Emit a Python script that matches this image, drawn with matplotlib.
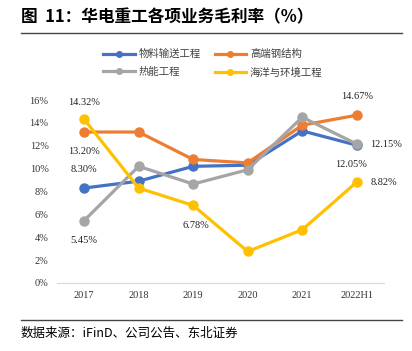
import matplotlib.pyplot as plt
from matplotlib.lines import Line2D

plt.rcParams['font.family'] = ['Noto Sans CJK SC', 'DejaVu Sans']

years = ['2017', '2018', '2019', '2020', '2021', '2022H1']
names = ['物料输送工程', '高端钢结构', '热能工程', '海洋与环境工程']
wuliao = [8.30, 8.9, 10.2, 10.3, 13.3, 12.05]
gangjg = [13.20, 13.2, 10.8, 10.5, 13.8, 14.67]
reneng = [5.45, 10.2, 8.65, 9.9, 14.5, 12.15]
haiyang = [14.32, 8.3, 6.78, 2.75, 4.65, 8.82]
colors = ['#4472C4', '#ED7D31', '#A5A5A5', '#FFC000']

fig = plt.figure(figsize=(4.12, 3.51), dpi=100)
ax = fig.add_axes([0.138, 0.194, 0.794, 0.521])

x = range(len(years))
for vals, c in zip([wuliao, gangjg, reneng, haiyang], colors):
    ax.plot(x, vals, color=c, lw=2.3, marker='o', ms=6.5)

ax.set_xlim(-0.5, 5.5)
ax.set_ylim(0, 16)
ax.set_yticks(range(0, 17, 2))
ax.set_yticklabels(['%d%%' % v for v in range(0, 17, 2)])
ax.set_xticks(list(x))
ax.set_xticklabels(years)
for lab in ax.get_xticklabels() + ax.get_yticklabels():
    lab.set_fontfamily('Liberation Serif')
    lab.set_fontsize(7.5)
ax.tick_params(length=0, pad=6, colors='#333333')
for s in ['top', 'right', 'left']:
    ax.spines[s].set_visible(False)
ax.spines['bottom'].set_color('#D9D9D9')

tf = dict(fontfamily='Liberation Serif', fontsize=7.5, color='#222222')
ax.annotate('14.32%', (0, haiyang[0]), xytext=(0, 9), textcoords='offset points', ha='center', va='bottom', **tf)
ax.annotate('13.20%', (0, gangjg[0]), xytext=(0, -11), textcoords='offset points', ha='center', va='top', **tf)
ax.annotate('8.30%', (0, wuliao[0]), xytext=(0, 10), textcoords='offset points', ha='center', va='bottom', **tf)
ax.annotate('5.45%', (0, reneng[0]), xytext=(0, -11), textcoords='offset points', ha='center', va='top', **tf)
ax.annotate('6.78%', (2, haiyang[2]), xytext=(2, -11), textcoords='offset points', ha='center', va='top', **tf)
ax.annotate('14.67%', (5, gangjg[5]), xytext=(0, 10), textcoords='offset points', ha='center', va='bottom', **tf)
ax.annotate('12.15%', (5, reneng[5]), xytext=(10, 0), textcoords='offset points', ha='left', va='center', **tf)
ax.annotate('12.05%', (5, wuliao[5]), xytext=(-4, -11), textcoords='offset points', ha='center', va='top', **tf)
ax.annotate('8.82%', (5, haiyang[5]), xytext=(10, 0), textcoords='offset points', ha='left', va='center', **tf)

# legend filled column-wise, so reorder to get row-wise layout
order = [0, 2, 1, 3]
handles = [Line2D([0], [0], color=colors[i], lw=2.3, marker='o', ms=4) for i in order]
labels = [names[i] for i in order]
leg = fig.legend(handles, labels, loc='center', bbox_to_anchor=(0.517, 0.82), ncol=2, frameon=False,
                 fontsize=7.5, handlelength=3, columnspacing=1.3, labelspacing=0.75, handletextpad=0.4)
for t in leg.get_texts():
    t.set_color('#404040')

fig.text(0.05, 0.95, '图  11：华电重工各项业务毛利率（%）', fontsize=12, fontweight='bold', va='center')
fig.add_artist(Line2D([0.05, 0.975], [0.906, 0.906], color='#444444', lw=1))
fig.add_artist(Line2D([0.05, 0.975], [0.088, 0.088], color='#444444', lw=1))
fig.text(0.05, 0.05, '数据来源：iFinD、公司公告、东北证券', fontsize=9, va='center')

fig.savefig('out.png', dpi=100)
